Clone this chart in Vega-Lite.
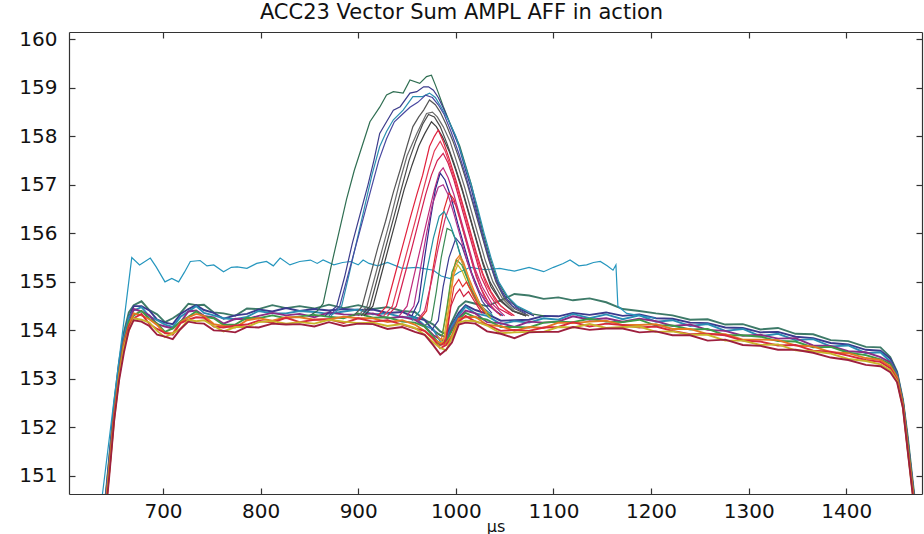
{
  "$schema": "https://vega.github.io/schema/vega-lite/v6.json",
  "width": 853,
  "height": 462,
  "autosize": {"type": "none"},
  "padding": {"left": 69, "top": 32, "right": 2, "bottom": 40},
  "background": "white",
  "title": {"text": "ACC23 Vector Sum AMPL AFF in action", "font": "DejaVu Sans", "fontSize": 21, "fontWeight": "normal", "color": "#111", "anchor": "middle", "dx": -34, "offset": 6},
  "config": {
    "view": {"stroke": null},
    "axis": {"grid": false, "domainColor": "#333", "tickColor": "#333", "labelColor": "#111", "labelFont": "DejaVu Sans", "labelFontSize": 20, "titleFont": "DejaVu Sans", "titleFontWeight": "normal", "titleColor": "#111", "tickSize": -6, "domainWidth": 1.2, "tickWidth": 1.2}
  },
  "datasets": {
    "pts": [
{"s":"L1","x":638,"y":149.9},{"s":"L1","x":645,"y":151.4},{"s":"L1","x":650,"y":152.5},{"s":"L1","x":655,"y":153.35},{"s":"L1","x":660,"y":153.97},{"s":"L1","x":665,"y":154.37},{"s":"L1","x":670,"y":154.52},{"s":"L1","x":678,"y":154.6},{"s":"L1","x":686,"y":154.42},{"s":"L1","x":694,"y":154.33},{"s":"L1","x":702,"y":154.17},{"s":"L1","x":710,"y":154.25},{"s":"L1","x":718,"y":154.36},{"s":"L1","x":726,"y":154.55},{"s":"L1","x":734,"y":154.52},{"s":"L1","x":742,"y":154.53},{"s":"L1","x":752,"y":154.37},{"s":"L1","x":762,"y":154.35},{"s":"L1","x":774,"y":154.3},{"s":"L1","x":786,"y":154.45},{"s":"L1","x":798,"y":154.44},{"s":"L1","x":812,"y":154.52},{"s":"L1","x":826,"y":154.46},{"s":"L1","x":840,"y":154.5},{"s":"L1","x":855,"y":154.45},{"s":"L1","x":870,"y":154.53},{"s":"L1","x":885,"y":154.46},{"s":"L1","x":900,"y":154.52},{"s":"L1","x":915,"y":154.44},{"s":"L1","x":930,"y":154.48},{"s":"L1","x":945,"y":154.4},{"s":"L1","x":958,"y":154.38},{"s":"L1","x":968,"y":154.22},{"s":"L1","x":977,"y":154.12},{"s":"L1","x":984,"y":153.98},{"s":"L1","x":990,"y":153.92},{"s":"L1","x":996,"y":154.18},{"s":"L1","x":1003,"y":154.48},{"s":"L1","x":1010,"y":154.6},{"s":"L1","x":1020,"y":154.55},{"s":"L1","x":1032,"y":154.5},{"s":"L1","x":1046,"y":154.62},{"s":"L1","x":1060,"y":154.75},{"s":"L1","x":1075,"y":154.72},{"s":"L1","x":1090,"y":154.65},{"s":"L1","x":1105,"y":154.68},{"s":"L1","x":1120,"y":154.62},{"s":"L1","x":1137,"y":154.66},{"s":"L1","x":1154,"y":154.58},{"s":"L1","x":1171,"y":154.44},{"s":"L1","x":1188,"y":154.4},{"s":"L1","x":1205,"y":154.35},{"s":"L1","x":1222,"y":154.31},{"s":"L1","x":1240,"y":154.22},{"s":"L1","x":1258,"y":154.23},{"s":"L1","x":1276,"y":154.12},{"s":"L1","x":1294,"y":154.13},{"s":"L1","x":1312,"y":154.02},{"s":"L1","x":1330,"y":154.05},{"s":"L1","x":1348,"y":153.93},{"s":"L1","x":1366,"y":153.92},{"s":"L1","x":1384,"y":153.8},{"s":"L1","x":1402,"y":153.78},{"s":"L1","x":1420,"y":153.66},{"s":"L1","x":1435,"y":153.65},{"s":"L1","x":1445,"y":153.45},{"s":"L1","x":1452,"y":153.15},{"s":"L1","x":1458,"y":152.58},{"s":"L1","x":1463,"y":151.8},{"s":"L1","x":1468,"y":150.9},{"s":"L1","x":1472,"y":150.2},
{"s":"L2","x":638,"y":149.84},{"s":"L2","x":645,"y":151.34},{"s":"L2","x":650,"y":152.44},{"s":"L2","x":655,"y":153.29},{"s":"L2","x":660,"y":153.89},{"s":"L2","x":665,"y":154.27},{"s":"L2","x":670,"y":154.5},{"s":"L2","x":678,"y":154.5},{"s":"L2","x":686,"y":154.41},{"s":"L2","x":694,"y":154.22},{"s":"L2","x":702,"y":154.16},{"s":"L2","x":710,"y":154.13},{"s":"L2","x":718,"y":154.34},{"s":"L2","x":726,"y":154.44},{"s":"L2","x":734,"y":154.52},{"s":"L2","x":742,"y":154.42},{"s":"L2","x":752,"y":154.36},{"s":"L2","x":762,"y":154.24},{"s":"L2","x":774,"y":154.31},{"s":"L2","x":786,"y":154.34},{"s":"L2","x":798,"y":154.43},{"s":"L2","x":812,"y":154.39},{"s":"L2","x":826,"y":154.46},{"s":"L2","x":840,"y":154.4},{"s":"L2","x":855,"y":154.44},{"s":"L2","x":870,"y":154.41},{"s":"L2","x":885,"y":154.44},{"s":"L2","x":900,"y":154.42},{"s":"L2","x":915,"y":154.43},{"s":"L2","x":930,"y":154.36},{"s":"L2","x":945,"y":154.38},{"s":"L2","x":958,"y":154.27},{"s":"L2","x":968,"y":154.21},{"s":"L2","x":977,"y":154.0},{"s":"L2","x":984,"y":153.9},{"s":"L2","x":990,"y":153.86},{"s":"L2","x":996,"y":154.12},{"s":"L2","x":1003,"y":154.36},{"s":"L2","x":1010,"y":154.52},{"s":"L2","x":1020,"y":154.42},{"s":"L2","x":1032,"y":154.34},{"s":"L2","x":1046,"y":154.2},{"s":"L2","x":1060,"y":154.21},{"s":"L2","x":1075,"y":154.22},{"s":"L2","x":1090,"y":154.3},{"s":"L2","x":1105,"y":154.29},{"s":"L2","x":1120,"y":154.36},{"s":"L2","x":1137,"y":154.32},{"s":"L2","x":1154,"y":154.37},{"s":"L2","x":1171,"y":154.3},{"s":"L2","x":1188,"y":154.33},{"s":"L2","x":1205,"y":154.25},{"s":"L2","x":1222,"y":154.24},{"s":"L2","x":1240,"y":154.16},{"s":"L2","x":1258,"y":154.15},{"s":"L2","x":1276,"y":154.06},{"s":"L2","x":1294,"y":154.05},{"s":"L2","x":1312,"y":153.96},{"s":"L2","x":1330,"y":153.97},{"s":"L2","x":1348,"y":153.87},{"s":"L2","x":1366,"y":153.84},{"s":"L2","x":1384,"y":153.74},{"s":"L2","x":1402,"y":153.71},{"s":"L2","x":1420,"y":153.6},{"s":"L2","x":1435,"y":153.58},{"s":"L2","x":1445,"y":153.42},{"s":"L2","x":1452,"y":153.12},{"s":"L2","x":1458,"y":152.53},{"s":"L2","x":1463,"y":151.7},{"s":"L2","x":1468,"y":150.8},{"s":"L2","x":1472,"y":150.1},
{"s":"L3","x":638,"y":149.82},{"s":"L3","x":645,"y":151.27},{"s":"L3","x":650,"y":152.4},{"s":"L3","x":655,"y":153.2},{"s":"L3","x":660,"y":153.86},{"s":"L3","x":665,"y":154.28},{"s":"L3","x":670,"y":154.41},{"s":"L3","x":678,"y":154.48},{"s":"L3","x":686,"y":154.29},{"s":"L3","x":694,"y":154.21},{"s":"L3","x":702,"y":154.12},{"s":"L3","x":710,"y":154.07},{"s":"L3","x":718,"y":154.28},{"s":"L3","x":726,"y":154.39},{"s":"L3","x":734,"y":154.5},{"s":"L3","x":742,"y":154.36},{"s":"L3","x":752,"y":154.31},{"s":"L3","x":762,"y":154.25},{"s":"L3","x":774,"y":154.23},{"s":"L3","x":786,"y":154.28},{"s":"L3","x":798,"y":154.4},{"s":"L3","x":812,"y":154.35},{"s":"L3","x":826,"y":154.35},{"s":"L3","x":840,"y":154.4},{"s":"L3","x":855,"y":154.38},{"s":"L3","x":870,"y":154.34},{"s":"L3","x":885,"y":154.39},{"s":"L3","x":900,"y":154.43},{"s":"L3","x":915,"y":154.33},{"s":"L3","x":930,"y":154.35},{"s":"L3","x":945,"y":154.27},{"s":"L3","x":958,"y":154.27},{"s":"L3","x":968,"y":154.1},{"s":"L3","x":977,"y":154.02},{"s":"L3","x":984,"y":153.78},{"s":"L3","x":990,"y":153.8},{"s":"L3","x":996,"y":154.09},{"s":"L3","x":1003,"y":154.31},{"s":"L3","x":1010,"y":154.49},{"s":"L3","x":1020,"y":154.35},{"s":"L3","x":1032,"y":154.3},{"s":"L3","x":1046,"y":154.13},{"s":"L3","x":1060,"y":154.19},{"s":"L3","x":1075,"y":154.16},{"s":"L3","x":1090,"y":154.25},{"s":"L3","x":1105,"y":154.22},{"s":"L3","x":1120,"y":154.34},{"s":"L3","x":1137,"y":154.25},{"s":"L3","x":1154,"y":154.33},{"s":"L3","x":1171,"y":154.23},{"s":"L3","x":1188,"y":154.31},{"s":"L3","x":1205,"y":154.18},{"s":"L3","x":1222,"y":154.21},{"s":"L3","x":1240,"y":154.09},{"s":"L3","x":1258,"y":154.13},{"s":"L3","x":1276,"y":153.99},{"s":"L3","x":1294,"y":154.03},{"s":"L3","x":1312,"y":153.88},{"s":"L3","x":1330,"y":153.93},{"s":"L3","x":1348,"y":153.8},{"s":"L3","x":1366,"y":153.82},{"s":"L3","x":1384,"y":153.67},{"s":"L3","x":1402,"y":153.69},{"s":"L3","x":1420,"y":153.53},{"s":"L3","x":1435,"y":153.55},{"s":"L3","x":1445,"y":153.36},{"s":"L3","x":1452,"y":153.1},{"s":"L3","x":1458,"y":152.52},{"s":"L3","x":1463,"y":151.72},{"s":"L3","x":1468,"y":150.82},{"s":"L3","x":1472,"y":150.12},
{"s":"L4","x":638,"y":149.72},{"s":"L4","x":645,"y":151.26},{"s":"L4","x":650,"y":152.31},{"s":"L4","x":655,"y":153.22},{"s":"L4","x":660,"y":153.78},{"s":"L4","x":665,"y":154.15},{"s":"L4","x":670,"y":154.44},{"s":"L4","x":678,"y":154.39},{"s":"L4","x":686,"y":154.31},{"s":"L4","x":694,"y":154.13},{"s":"L4","x":702,"y":154.08},{"s":"L4","x":710,"y":154.04},{"s":"L4","x":718,"y":154.17},{"s":"L4","x":726,"y":154.39},{"s":"L4","x":734,"y":154.41},{"s":"L4","x":742,"y":154.3},{"s":"L4","x":752,"y":154.27},{"s":"L4","x":762,"y":154.14},{"s":"L4","x":774,"y":154.24},{"s":"L4","x":786,"y":154.23},{"s":"L4","x":798,"y":154.3},{"s":"L4","x":812,"y":154.36},{"s":"L4","x":826,"y":154.31},{"s":"L4","x":840,"y":154.34},{"s":"L4","x":855,"y":154.27},{"s":"L4","x":870,"y":154.37},{"s":"L4","x":885,"y":154.33},{"s":"L4","x":900,"y":154.32},{"s":"L4","x":915,"y":154.35},{"s":"L4","x":930,"y":154.25},{"s":"L4","x":945,"y":154.28},{"s":"L4","x":958,"y":154.22},{"s":"L4","x":968,"y":154.08},{"s":"L4","x":977,"y":153.9},{"s":"L4","x":984,"y":153.82},{"s":"L4","x":990,"y":153.77},{"s":"L4","x":996,"y":154.03},{"s":"L4","x":1003,"y":154.26},{"s":"L4","x":1010,"y":154.41},{"s":"L4","x":1020,"y":154.35},{"s":"L4","x":1032,"y":154.17},{"s":"L4","x":1046,"y":154.15},{"s":"L4","x":1060,"y":154.07},{"s":"L4","x":1075,"y":154.18},{"s":"L4","x":1090,"y":154.16},{"s":"L4","x":1105,"y":154.18},{"s":"L4","x":1120,"y":154.29},{"s":"L4","x":1137,"y":154.22},{"s":"L4","x":1154,"y":154.25},{"s":"L4","x":1171,"y":154.18},{"s":"L4","x":1188,"y":154.24},{"s":"L4","x":1205,"y":154.19},{"s":"L4","x":1222,"y":154.09},{"s":"L4","x":1240,"y":154.12},{"s":"L4","x":1258,"y":154.01},{"s":"L4","x":1276,"y":153.99},{"s":"L4","x":1294,"y":153.89},{"s":"L4","x":1312,"y":153.91},{"s":"L4","x":1330,"y":153.83},{"s":"L4","x":1348,"y":153.84},{"s":"L4","x":1366,"y":153.69},{"s":"L4","x":1384,"y":153.68},{"s":"L4","x":1402,"y":153.57},{"s":"L4","x":1420,"y":153.55},{"s":"L4","x":1435,"y":153.45},{"s":"L4","x":1445,"y":153.34},{"s":"L4","x":1452,"y":153.07},{"s":"L4","x":1458,"y":152.5},{"s":"L4","x":1463,"y":151.7},{"s":"L4","x":1468,"y":150.8},{"s":"L4","x":1472,"y":150.1},
{"s":"L5","x":638,"y":149.73},{"s":"L5","x":645,"y":151.19},{"s":"L5","x":650,"y":152.32},{"s":"L5","x":655,"y":153.13},{"s":"L5","x":660,"y":153.76},{"s":"L5","x":665,"y":154.18},{"s":"L5","x":670,"y":154.31},{"s":"L5","x":678,"y":154.4},{"s":"L5","x":686,"y":154.24},{"s":"L5","x":694,"y":154.14},{"s":"L5","x":702,"y":153.97},{"s":"L5","x":710,"y":154.04},{"s":"L5","x":718,"y":154.19},{"s":"L5","x":726,"y":154.28},{"s":"L5","x":734,"y":154.39},{"s":"L5","x":742,"y":154.28},{"s":"L5","x":752,"y":154.25},{"s":"L5","x":762,"y":154.11},{"s":"L5","x":774,"y":154.12},{"s":"L5","x":786,"y":154.26},{"s":"L5","x":798,"y":154.25},{"s":"L5","x":812,"y":154.31},{"s":"L5","x":826,"y":154.25},{"s":"L5","x":840,"y":154.29},{"s":"L5","x":855,"y":154.32},{"s":"L5","x":870,"y":154.28},{"s":"L5","x":885,"y":154.25},{"s":"L5","x":900,"y":154.35},{"s":"L5","x":915,"y":154.26},{"s":"L5","x":930,"y":154.27},{"s":"L5","x":945,"y":154.18},{"s":"L5","x":958,"y":154.16},{"s":"L5","x":968,"y":154.08},{"s":"L5","x":977,"y":153.87},{"s":"L5","x":984,"y":153.7},{"s":"L5","x":990,"y":153.77},{"s":"L5","x":996,"y":153.99},{"s":"L5","x":1003,"y":154.23},{"s":"L5","x":1010,"y":154.36},{"s":"L5","x":1020,"y":154.27},{"s":"L5","x":1032,"y":154.22},{"s":"L5","x":1046,"y":154.07},{"s":"L5","x":1060,"y":154.07},{"s":"L5","x":1075,"y":154.06},{"s":"L5","x":1090,"y":154.16},{"s":"L5","x":1105,"y":154.18},{"s":"L5","x":1120,"y":154.17},{"s":"L5","x":1137,"y":154.24},{"s":"L5","x":1154,"y":154.18},{"s":"L5","x":1171,"y":154.17},{"s":"L5","x":1188,"y":154.22},{"s":"L5","x":1205,"y":154.1},{"s":"L5","x":1222,"y":154.1},{"s":"L5","x":1240,"y":154.02},{"s":"L5","x":1258,"y":154.03},{"s":"L5","x":1276,"y":153.9},{"s":"L5","x":1294,"y":153.9},{"s":"L5","x":1312,"y":153.87},{"s":"L5","x":1330,"y":153.78},{"s":"L5","x":1348,"y":153.77},{"s":"L5","x":1366,"y":153.65},{"s":"L5","x":1384,"y":153.66},{"s":"L5","x":1402,"y":153.54},{"s":"L5","x":1420,"y":153.49},{"s":"L5","x":1435,"y":153.4},{"s":"L5","x":1445,"y":153.31},{"s":"L5","x":1452,"y":153.05},{"s":"L5","x":1458,"y":152.5},{"s":"L5","x":1463,"y":151.68},{"s":"L5","x":1468,"y":150.78},{"s":"L5","x":1472,"y":150.05},
{"s":"L6","x":638,"y":149.63},{"s":"L6","x":645,"y":151.18},{"s":"L6","x":650,"y":152.27},{"s":"L6","x":655,"y":153.09},{"s":"L6","x":660,"y":153.74},{"s":"L6","x":665,"y":154.1},{"s":"L6","x":670,"y":154.35},{"s":"L6","x":678,"y":154.31},{"s":"L6","x":686,"y":154.23},{"s":"L6","x":694,"y":154.11},{"s":"L6","x":702,"y":153.94},{"s":"L6","x":710,"y":153.94},{"s":"L6","x":718,"y":154.17},{"s":"L6","x":726,"y":154.27},{"s":"L6","x":734,"y":154.34},{"s":"L6","x":742,"y":154.3},{"s":"L6","x":752,"y":154.13},{"s":"L6","x":762,"y":154.09},{"s":"L6","x":774,"y":154.06},{"s":"L6","x":786,"y":154.21},{"s":"L6","x":798,"y":154.25},{"s":"L6","x":812,"y":154.2},{"s":"L6","x":826,"y":154.27},{"s":"L6","x":840,"y":154.27},{"s":"L6","x":855,"y":154.22},{"s":"L6","x":870,"y":154.23},{"s":"L6","x":885,"y":154.28},{"s":"L6","x":900,"y":154.25},{"s":"L6","x":915,"y":154.25},{"s":"L6","x":930,"y":154.17},{"s":"L6","x":945,"y":154.21},{"s":"L6","x":958,"y":154.12},{"s":"L6","x":968,"y":153.99},{"s":"L6","x":977,"y":153.82},{"s":"L6","x":984,"y":153.74},{"s":"L6","x":990,"y":153.73},{"s":"L6","x":996,"y":153.9},{"s":"L6","x":1003,"y":154.24},{"s":"L6","x":1010,"y":154.27},{"s":"L6","x":1020,"y":154.28},{"s":"L6","x":1032,"y":154.11},{"s":"L6","x":1046,"y":154.09},{"s":"L6","x":1060,"y":153.99},{"s":"L6","x":1075,"y":154.07},{"s":"L6","x":1090,"y":154.05},{"s":"L6","x":1105,"y":154.16},{"s":"L6","x":1120,"y":154.15},{"s":"L6","x":1137,"y":154.18},{"s":"L6","x":1154,"y":154.2},{"s":"L6","x":1171,"y":154.11},{"s":"L6","x":1188,"y":154.11},{"s":"L6","x":1205,"y":154.13},{"s":"L6","x":1222,"y":154.03},{"s":"L6","x":1240,"y":154.03},{"s":"L6","x":1258,"y":153.92},{"s":"L6","x":1276,"y":153.92},{"s":"L6","x":1294,"y":153.81},{"s":"L6","x":1312,"y":153.81},{"s":"L6","x":1330,"y":153.8},{"s":"L6","x":1348,"y":153.69},{"s":"L6","x":1366,"y":153.67},{"s":"L6","x":1384,"y":153.55},{"s":"L6","x":1402,"y":153.53},{"s":"L6","x":1420,"y":153.43},{"s":"L6","x":1435,"y":153.39},{"s":"L6","x":1445,"y":153.26},{"s":"L6","x":1452,"y":153.03},{"s":"L6","x":1458,"y":152.47},{"s":"L6","x":1463,"y":151.58},{"s":"L6","x":1468,"y":150.72},{"s":"L6","x":1472,"y":149.98},
{"s":"L7","x":638,"y":149.64},{"s":"L7","x":645,"y":151.11},{"s":"L7","x":650,"y":152.25},{"s":"L7","x":655,"y":153.04},{"s":"L7","x":660,"y":153.68},{"s":"L7","x":665,"y":154.09},{"s":"L7","x":670,"y":154.25},{"s":"L7","x":678,"y":154.34},{"s":"L7","x":686,"y":154.13},{"s":"L7","x":694,"y":154.03},{"s":"L7","x":702,"y":153.95},{"s":"L7","x":710,"y":153.91},{"s":"L7","x":718,"y":154.15},{"s":"L7","x":726,"y":154.22},{"s":"L7","x":734,"y":154.27},{"s":"L7","x":742,"y":154.26},{"s":"L7","x":752,"y":154.08},{"s":"L7","x":762,"y":154.06},{"s":"L7","x":774,"y":154.1},{"s":"L7","x":786,"y":154.12},{"s":"L7","x":798,"y":154.2},{"s":"L7","x":812,"y":154.16},{"s":"L7","x":826,"y":154.26},{"s":"L7","x":840,"y":154.17},{"s":"L7","x":855,"y":154.22},{"s":"L7","x":870,"y":154.23},{"s":"L7","x":885,"y":154.15},{"s":"L7","x":900,"y":154.25},{"s":"L7","x":915,"y":154.18},{"s":"L7","x":930,"y":154.21},{"s":"L7","x":945,"y":154.12},{"s":"L7","x":958,"y":154.04},{"s":"L7","x":968,"y":153.99},{"s":"L7","x":977,"y":153.83},{"s":"L7","x":984,"y":153.63},{"s":"L7","x":990,"y":153.7},{"s":"L7","x":996,"y":153.85},{"s":"L7","x":1003,"y":154.18},{"s":"L7","x":1010,"y":154.3},{"s":"L7","x":1020,"y":154.18},{"s":"L7","x":1032,"y":154.12},{"s":"L7","x":1046,"y":153.99},{"s":"L7","x":1060,"y":154.01},{"s":"L7","x":1075,"y":153.99},{"s":"L7","x":1090,"y":154.06},{"s":"L7","x":1105,"y":154.07},{"s":"L7","x":1120,"y":154.17},{"s":"L7","x":1137,"y":154.08},{"s":"L7","x":1154,"y":154.14},{"s":"L7","x":1171,"y":154.11},{"s":"L7","x":1188,"y":154.06},{"s":"L7","x":1205,"y":154.08},{"s":"L7","x":1222,"y":153.99},{"s":"L7","x":1240,"y":153.92},{"s":"L7","x":1258,"y":153.93},{"s":"L7","x":1276,"y":153.9},{"s":"L7","x":1294,"y":153.79},{"s":"L7","x":1312,"y":153.77},{"s":"L7","x":1330,"y":153.69},{"s":"L7","x":1348,"y":153.7},{"s":"L7","x":1366,"y":153.58},{"s":"L7","x":1384,"y":153.56},{"s":"L7","x":1402,"y":153.48},{"s":"L7","x":1420,"y":153.39},{"s":"L7","x":1435,"y":153.35},{"s":"L7","x":1445,"y":153.22},{"s":"L7","x":1452,"y":152.99},{"s":"L7","x":1458,"y":152.45},{"s":"L7","x":1463,"y":151.55},{"s":"L7","x":1468,"y":150.68},{"s":"L7","x":1472,"y":149.95},
{"s":"L8","x":638,"y":149.57},{"s":"L8","x":645,"y":151.1},{"s":"L8","x":650,"y":152.16},{"s":"L8","x":655,"y":153.04},{"s":"L8","x":660,"y":153.66},{"s":"L8","x":665,"y":154.0},{"s":"L8","x":670,"y":154.25},{"s":"L8","x":678,"y":154.22},{"s":"L8","x":686,"y":154.16},{"s":"L8","x":694,"y":153.99},{"s":"L8","x":702,"y":153.86},{"s":"L8","x":710,"y":153.94},{"s":"L8","x":718,"y":154.03},{"s":"L8","x":726,"y":154.22},{"s":"L8","x":734,"y":154.19},{"s":"L8","x":742,"y":154.21},{"s":"L8","x":752,"y":154.09},{"s":"L8","x":762,"y":153.98},{"s":"L8","x":774,"y":154.07},{"s":"L8","x":786,"y":154.07},{"s":"L8","x":798,"y":154.17},{"s":"L8","x":812,"y":154.19},{"s":"L8","x":826,"y":154.14},{"s":"L8","x":840,"y":154.17},{"s":"L8","x":855,"y":154.14},{"s":"L8","x":870,"y":154.22},{"s":"L8","x":885,"y":154.18},{"s":"L8","x":900,"y":154.15},{"s":"L8","x":915,"y":154.16},{"s":"L8","x":930,"y":154.09},{"s":"L8","x":945,"y":154.13},{"s":"L8","x":958,"y":154.05},{"s":"L8","x":968,"y":153.91},{"s":"L8","x":977,"y":153.75},{"s":"L8","x":984,"y":153.64},{"s":"L8","x":990,"y":153.59},{"s":"L8","x":996,"y":153.85},{"s":"L8","x":1003,"y":154.16},{"s":"L8","x":1010,"y":154.2},{"s":"L8","x":1020,"y":154.19},{"s":"L8","x":1032,"y":154.1},{"s":"L8","x":1046,"y":153.94},{"s":"L8","x":1060,"y":153.96},{"s":"L8","x":1075,"y":153.97},{"s":"L8","x":1090,"y":153.97},{"s":"L8","x":1105,"y":154.07},{"s":"L8","x":1120,"y":154.06},{"s":"L8","x":1137,"y":154.13},{"s":"L8","x":1154,"y":154.05},{"s":"L8","x":1171,"y":154.07},{"s":"L8","x":1188,"y":154.08},{"s":"L8","x":1205,"y":153.97},{"s":"L8","x":1222,"y":153.98},{"s":"L8","x":1240,"y":153.91},{"s":"L8","x":1258,"y":153.91},{"s":"L8","x":1276,"y":153.79},{"s":"L8","x":1294,"y":153.79},{"s":"L8","x":1312,"y":153.7},{"s":"L8","x":1330,"y":153.71},{"s":"L8","x":1348,"y":153.59},{"s":"L8","x":1366,"y":153.57},{"s":"L8","x":1384,"y":153.52},{"s":"L8","x":1402,"y":153.41},{"s":"L8","x":1420,"y":153.37},{"s":"L8","x":1435,"y":153.3},{"s":"L8","x":1445,"y":153.18},{"s":"L8","x":1452,"y":152.96},{"s":"L8","x":1458,"y":152.42},{"s":"L8","x":1463,"y":151.52},{"s":"L8","x":1468,"y":150.65},{"s":"L8","x":1472,"y":149.92},
{"s":"L9","x":638,"y":149.54},{"s":"L9","x":645,"y":151.01},{"s":"L9","x":650,"y":152.15},{"s":"L9","x":655,"y":152.97},{"s":"L9","x":660,"y":153.55},{"s":"L9","x":665,"y":154.0},{"s":"L9","x":670,"y":154.21},{"s":"L9","x":678,"y":154.18},{"s":"L9","x":686,"y":154.09},{"s":"L9","x":694,"y":153.91},{"s":"L9","x":702,"y":153.87},{"s":"L9","x":710,"y":153.82},{"s":"L9","x":718,"y":154.03},{"s":"L9","x":726,"y":154.18},{"s":"L9","x":734,"y":154.15},{"s":"L9","x":742,"y":154.14},{"s":"L9","x":752,"y":154.0},{"s":"L9","x":762,"y":153.99},{"s":"L9","x":774,"y":153.96},{"s":"L9","x":786,"y":154.07},{"s":"L9","x":798,"y":154.06},{"s":"L9","x":812,"y":154.14},{"s":"L9","x":826,"y":154.12},{"s":"L9","x":840,"y":154.13},{"s":"L9","x":855,"y":154.08},{"s":"L9","x":870,"y":154.17},{"s":"L9","x":885,"y":154.09},{"s":"L9","x":900,"y":154.14},{"s":"L9","x":915,"y":154.13},{"s":"L9","x":930,"y":154.03},{"s":"L9","x":945,"y":154.07},{"s":"L9","x":958,"y":153.97},{"s":"L9","x":968,"y":153.91},{"s":"L9","x":977,"y":153.69},{"s":"L9","x":984,"y":153.5},{"s":"L9","x":990,"y":153.6},{"s":"L9","x":996,"y":153.75},{"s":"L9","x":1003,"y":154.12},{"s":"L9","x":1010,"y":154.16},{"s":"L9","x":1020,"y":154.14},{"s":"L9","x":1032,"y":153.98},{"s":"L9","x":1046,"y":153.93},{"s":"L9","x":1060,"y":153.84},{"s":"L9","x":1075,"y":153.96},{"s":"L9","x":1090,"y":153.97},{"s":"L9","x":1105,"y":153.97},{"s":"L9","x":1120,"y":154.07},{"s":"L9","x":1137,"y":154.01},{"s":"L9","x":1154,"y":154.04},{"s":"L9","x":1171,"y":154.04},{"s":"L9","x":1188,"y":153.96},{"s":"L9","x":1205,"y":153.98},{"s":"L9","x":1222,"y":153.9},{"s":"L9","x":1240,"y":153.9},{"s":"L9","x":1258,"y":153.79},{"s":"L9","x":1276,"y":153.81},{"s":"L9","x":1294,"y":153.7},{"s":"L9","x":1312,"y":153.68},{"s":"L9","x":1330,"y":153.6},{"s":"L9","x":1348,"y":153.6},{"s":"L9","x":1366,"y":153.54},{"s":"L9","x":1384,"y":153.44},{"s":"L9","x":1402,"y":153.39},{"s":"L9","x":1420,"y":153.29},{"s":"L9","x":1435,"y":153.26},{"s":"L9","x":1445,"y":153.14},{"s":"L9","x":1452,"y":152.93},{"s":"L9","x":1458,"y":152.4},{"s":"L9","x":1463,"y":151.5},{"s":"L9","x":1468,"y":150.62},{"s":"L9","x":1472,"y":149.9},
{"s":"CY","x":636,"y":150.3},{"s":"CY","x":650,"y":152.6},{"s":"CY","x":660,"y":154.2},{"s":"CY","x":668,"y":155.5},{"s":"CY","x":676,"y":155.35},{"s":"CY","x":687,"y":155.49},{"s":"CY","x":693,"y":155.31},{"s":"CY","x":702,"y":155.0},{"s":"CY","x":709,"y":155.07},{"s":"CY","x":716,"y":155.0},{"s":"CY","x":722,"y":155.2},{"s":"CY","x":728,"y":155.42},{"s":"CY","x":738,"y":155.44},{"s":"CY","x":745,"y":155.33},{"s":"CY","x":752,"y":155.35},{"s":"CY","x":762,"y":155.21},{"s":"CY","x":770,"y":155.3},{"s":"CY","x":776,"y":155.31},{"s":"CY","x":786,"y":155.28},{"s":"CY","x":796,"y":155.38},{"s":"CY","x":806,"y":155.42},{"s":"CY","x":813,"y":155.33},{"s":"CY","x":820,"y":155.49},{"s":"CY","x":830,"y":155.35},{"s":"CY","x":840,"y":155.42},{"s":"CY","x":851,"y":155.45},{"s":"CY","x":858,"y":155.38},{"s":"CY","x":864,"y":155.45},{"s":"CY","x":875,"y":155.35},{"s":"CY","x":884,"y":155.4},{"s":"CY","x":892,"y":155.42},{"s":"CY","x":900,"y":155.35},{"s":"CY","x":905,"y":155.45},{"s":"CY","x":911,"y":155.38},{"s":"CY","x":920,"y":155.33},{"s":"CY","x":930,"y":155.4},{"s":"CY","x":945,"y":155.28},{"s":"CY","x":960,"y":155.3},{"s":"CY","x":977,"y":155.24},{"s":"CY","x":985,"y":155.12},{"s":"CY","x":994,"y":155.07},{"s":"CY","x":1003,"y":155.2},{"s":"CY","x":1015,"y":155.3},{"s":"CY","x":1030,"y":155.25},{"s":"CY","x":1045,"y":155.28},{"s":"CY","x":1060,"y":155.22},{"s":"CY","x":1075,"y":155.3},{"s":"CY","x":1090,"y":155.21},{"s":"CY","x":1100,"y":155.3},{"s":"CY","x":1110,"y":155.38},{"s":"CY","x":1117,"y":155.45},{"s":"CY","x":1126,"y":155.33},{"s":"CY","x":1134,"y":155.35},{"s":"CY","x":1141,"y":155.4},{"s":"CY","x":1148,"y":155.42},{"s":"CY","x":1155,"y":155.33},{"s":"CY","x":1161,"y":155.24},{"s":"CY","x":1164,"y":155.35},{"s":"CY","x":1166,"y":154.5},{"s":"CY","x":1175,"y":154.35},{"s":"CY","x":1190,"y":154.3},{"s":"CY","x":1205,"y":154.25},
{"s":"S01","x":850,"y":154.3},{"s":"S01","x":858,"y":154.4},{"s":"S01","x":864,"y":154.55},{"s":"S01","x":872,"y":155.3},{"s":"S01","x":880,"y":156.0},{"s":"S01","x":888,"y":156.7},{"s":"S01","x":896,"y":157.3},{"s":"S01","x":904,"y":157.8},{"s":"S01","x":912,"y":158.3},{"s":"S01","x":922,"y":158.6},{"s":"S01","x":929,"y":158.85},{"s":"S01","x":936,"y":158.92},{"s":"S01","x":946,"y":158.89},{"s":"S01","x":953,"y":159.16},{"s":"S01","x":963,"y":159.09},{"s":"S01","x":970,"y":159.23},{"s":"S01","x":975,"y":159.26},{"s":"S01","x":979,"y":159.06},{"s":"S01","x":982,"y":158.9},{"s":"S01","x":987,"y":158.62},{"s":"S01","x":994,"y":158.27},{"s":"S01","x":1004,"y":157.8},{"s":"S01","x":1010,"y":157.4},{"s":"S01","x":1016,"y":157.0},{"s":"S01","x":1022,"y":156.5},{"s":"S01","x":1028,"y":156.0},{"s":"S01","x":1035,"y":155.5},{"s":"S01","x":1043,"y":155.0},{"s":"S01","x":1052,"y":154.7},{"s":"S01","x":1062,"y":154.5},{"s":"S01","x":1075,"y":154.35},{"s":"S01","x":1090,"y":154.3},
{"s":"S02","x":866,"y":154.3},{"s":"S02","x":872,"y":154.4},{"s":"S02","x":878,"y":154.5},{"s":"S02","x":886,"y":155.1},{"s":"S02","x":894,"y":155.8},{"s":"S02","x":902,"y":156.4},{"s":"S02","x":910,"y":157.0},{"s":"S02","x":916,"y":157.5},{"s":"S02","x":922,"y":158.06},{"s":"S02","x":929,"y":158.3},{"s":"S02","x":936,"y":158.54},{"s":"S02","x":943,"y":158.61},{"s":"S02","x":953,"y":158.89},{"s":"S02","x":960,"y":158.92},{"s":"S02","x":967,"y":159.02},{"s":"S02","x":972,"y":159.02},{"s":"S02","x":977,"y":158.95},{"s":"S02","x":982,"y":158.8},{"s":"S02","x":988,"y":158.55},{"s":"S02","x":995,"y":158.2},{"s":"S02","x":1003,"y":157.8},{"s":"S02","x":1010,"y":157.3},{"s":"S02","x":1016,"y":156.9},{"s":"S02","x":1022,"y":156.4},{"s":"S02","x":1028,"y":155.9},{"s":"S02","x":1035,"y":155.4},{"s":"S02","x":1043,"y":154.95},{"s":"S02","x":1052,"y":154.65},{"s":"S02","x":1064,"y":154.45},{"s":"S02","x":1080,"y":154.3},
{"s":"S03","x":872,"y":154.3},{"s":"S03","x":878,"y":154.4},{"s":"S03","x":883,"y":154.5},{"s":"S03","x":890,"y":155.1},{"s":"S03","x":898,"y":155.8},{"s":"S03","x":906,"y":156.5},{"s":"S03","x":914,"y":157.2},{"s":"S03","x":922,"y":157.79},{"s":"S03","x":929,"y":158.1},{"s":"S03","x":936,"y":158.34},{"s":"S03","x":946,"y":158.54},{"s":"S03","x":956,"y":158.82},{"s":"S03","x":966,"y":158.82},{"s":"S03","x":973,"y":158.89},{"s":"S03","x":979,"y":158.8},{"s":"S03","x":985,"y":158.6},{"s":"S03","x":992,"y":158.35},{"s":"S03","x":1000,"y":158.0},{"s":"S03","x":1008,"y":157.5},{"s":"S03","x":1015,"y":157.05},{"s":"S03","x":1022,"y":156.55},{"s":"S03","x":1029,"y":156.0},{"s":"S03","x":1036,"y":155.5},{"s":"S03","x":1044,"y":155.0},{"s":"S03","x":1053,"y":154.7},{"s":"S03","x":1063,"y":154.5},{"s":"S03","x":1078,"y":154.35},
{"s":"S04","x":895,"y":154.3},{"s":"S04","x":900,"y":154.4},{"s":"S04","x":904,"y":154.5},{"s":"S04","x":912,"y":155.1},{"s":"S04","x":920,"y":155.7},{"s":"S04","x":928,"y":156.25},{"s":"S04","x":936,"y":156.85},{"s":"S04","x":943,"y":157.31},{"s":"S04","x":950,"y":157.8},{"s":"S04","x":956,"y":158.2},{"s":"S04","x":962,"y":158.4},{"s":"S04","x":967,"y":158.54},{"s":"S04","x":973,"y":158.75},{"s":"S04","x":979,"y":158.65},{"s":"S04","x":984,"y":158.5},{"s":"S04","x":990,"y":158.25},{"s":"S04","x":997,"y":157.9},{"s":"S04","x":1005,"y":157.45},{"s":"S04","x":1012,"y":157.0},{"s":"S04","x":1019,"y":156.5},{"s":"S04","x":1026,"y":156.0},{"s":"S04","x":1033,"y":155.5},{"s":"S04","x":1041,"y":155.0},{"s":"S04","x":1050,"y":154.65},{"s":"S04","x":1060,"y":154.45},{"s":"S04","x":1075,"y":154.3},
{"s":"S05","x":900,"y":154.3},{"s":"S05","x":909,"y":154.5},{"s":"S05","x":917,"y":155.1},{"s":"S05","x":925,"y":155.7},{"s":"S05","x":933,"y":156.3},{"s":"S05","x":943,"y":157.1},{"s":"S05","x":950,"y":157.6},{"s":"S05","x":960,"y":158.06},{"s":"S05","x":970,"y":158.47},{"s":"S05","x":976,"y":158.5},{"s":"S05","x":981,"y":158.4},{"s":"S05","x":987,"y":158.2},{"s":"S05","x":994,"y":157.9},{"s":"S05","x":1002,"y":157.4},{"s":"S05","x":1009,"y":156.95},{"s":"S05","x":1016,"y":156.45},{"s":"S05","x":1023,"y":155.95},{"s":"S05","x":1030,"y":155.45},{"s":"S05","x":1038,"y":155.0},{"s":"S05","x":1048,"y":154.65},{"s":"S05","x":1060,"y":154.4},{"s":"S05","x":1075,"y":154.3},
{"s":"S06","x":906,"y":154.3},{"s":"S06","x":915,"y":154.5},{"s":"S06","x":923,"y":155.1},{"s":"S06","x":931,"y":155.7},{"s":"S06","x":939,"y":156.3},{"s":"S06","x":947,"y":156.9},{"s":"S06","x":955,"y":157.4},{"s":"S06","x":962,"y":157.8},{"s":"S06","x":968,"y":158.05},{"s":"S06","x":975,"y":158.3},{"s":"S06","x":980,"y":158.2},{"s":"S06","x":986,"y":158.0},{"s":"S06","x":993,"y":157.7},{"s":"S06","x":1000,"y":157.3},{"s":"S06","x":1007,"y":156.85},{"s":"S06","x":1014,"y":156.35},{"s":"S06","x":1021,"y":155.85},{"s":"S06","x":1028,"y":155.35},{"s":"S06","x":1036,"y":154.9},{"s":"S06","x":1046,"y":154.6},{"s":"S06","x":1058,"y":154.4},{"s":"S06","x":1072,"y":154.3},
{"s":"S07","x":870,"y":154.3},{"s":"S07","x":881,"y":154.5},{"s":"S07","x":889,"y":155.1},{"s":"S07","x":897,"y":155.7},{"s":"S07","x":905,"y":156.3},{"s":"S07","x":913,"y":156.9},{"s":"S07","x":921,"y":157.5},{"s":"S07","x":929,"y":157.95},{"s":"S07","x":937,"y":158.3},{"s":"S07","x":945,"y":158.45},{"s":"S07","x":953,"y":158.6},{"s":"S07","x":961,"y":158.7},{"s":"S07","x":969,"y":158.85},{"s":"S07","x":976,"y":158.8},{"s":"S07","x":982,"y":158.65},{"s":"S07","x":988,"y":158.45},{"s":"S07","x":995,"y":158.1},{"s":"S07","x":1003,"y":157.65},{"s":"S07","x":1010,"y":157.2},{"s":"S07","x":1017,"y":156.7},{"s":"S07","x":1024,"y":156.2},{"s":"S07","x":1031,"y":155.7},{"s":"S07","x":1039,"y":155.15},{"s":"S07","x":1048,"y":154.75},{"s":"S07","x":1058,"y":154.5},{"s":"S07","x":1072,"y":154.35},
{"s":"S08","x":920,"y":154.3},{"s":"S08","x":929,"y":154.5},{"s":"S08","x":937,"y":155.1},{"s":"S08","x":945,"y":155.7},{"s":"S08","x":953,"y":156.3},{"s":"S08","x":960,"y":156.8},{"s":"S08","x":966,"y":157.2},{"s":"S08","x":973,"y":157.79},{"s":"S08","x":978,"y":158.0},{"s":"S08","x":982,"y":158.13},{"s":"S08","x":987,"y":157.9},{"s":"S08","x":993,"y":157.55},{"s":"S08","x":1000,"y":157.1},{"s":"S08","x":1007,"y":156.6},{"s":"S08","x":1014,"y":156.1},{"s":"S08","x":1021,"y":155.6},{"s":"S08","x":1028,"y":155.15},{"s":"S08","x":1036,"y":154.8},{"s":"S08","x":1046,"y":154.5},{"s":"S08","x":1060,"y":154.3},
{"s":"S09","x":930,"y":154.3},{"s":"S09","x":939,"y":154.5},{"s":"S09","x":947,"y":155.1},{"s":"S09","x":955,"y":155.7},{"s":"S09","x":962,"y":156.25},{"s":"S09","x":969,"y":156.8},{"s":"S09","x":975,"y":157.2},{"s":"S09","x":981,"y":157.5},{"s":"S09","x":987,"y":157.65},{"s":"S09","x":992,"y":157.45},{"s":"S09","x":998,"y":157.1},{"s":"S09","x":1005,"y":156.6},{"s":"S09","x":1012,"y":156.1},{"s":"S09","x":1019,"y":155.6},{"s":"S09","x":1026,"y":155.1},{"s":"S09","x":1034,"y":154.75},{"s":"S09","x":1044,"y":154.45},{"s":"S09","x":1058,"y":154.3},
{"s":"S10","x":942,"y":154.3},{"s":"S10","x":950,"y":154.5},{"s":"S10","x":958,"y":155.2},{"s":"S10","x":965,"y":155.8},{"s":"S10","x":972,"y":156.4},{"s":"S10","x":978,"y":156.9},{"s":"S10","x":983,"y":157.25},{"s":"S10","x":987,"y":157.35},{"s":"S10","x":992,"y":157.15},{"s":"S10","x":998,"y":156.8},{"s":"S10","x":1005,"y":156.3},{"s":"S10","x":1012,"y":155.8},{"s":"S10","x":1019,"y":155.3},{"s":"S10","x":1027,"y":154.9},{"s":"S10","x":1037,"y":154.55},{"s":"S10","x":1050,"y":154.3},
{"s":"S11","x":955,"y":154.3},{"s":"S11","x":962,"y":154.6},{"s":"S11","x":968,"y":155.5},{"s":"S11","x":974,"y":156.3},{"s":"S11","x":979,"y":156.9},{"s":"S11","x":984,"y":157.24},{"s":"S11","x":989,"y":157.1},{"s":"S11","x":995,"y":156.75},{"s":"S11","x":1002,"y":156.2},{"s":"S11","x":1009,"y":155.7},{"s":"S11","x":1016,"y":155.2},{"s":"S11","x":1024,"y":154.8},{"s":"S11","x":1034,"y":154.5},{"s":"S11","x":1048,"y":154.3},
{"s":"S12","x":962,"y":154.2},{"s":"S12","x":970,"y":154.4},{"s":"S12","x":976,"y":155.2},{"s":"S12","x":982,"y":155.9},{"s":"S12","x":988,"y":156.5},{"s":"S12","x":993,"y":156.83},{"s":"S12","x":998,"y":156.7},{"s":"S12","x":1004,"y":156.3},{"s":"S12","x":1011,"y":155.8},{"s":"S12","x":1018,"y":155.3},{"s":"S12","x":1025,"y":154.9},{"s":"S12","x":1034,"y":154.55},{"s":"S12","x":1046,"y":154.3},
{"s":"S13","x":960,"y":154.2},{"s":"S13","x":968,"y":154.4},{"s":"S13","x":975,"y":155.0},{"s":"S13","x":982,"y":155.7},{"s":"S13","x":989,"y":156.3},{"s":"S13","x":996,"y":156.7},{"s":"S13","x":1001,"y":156.55},{"s":"S13","x":1007,"y":156.1},{"s":"S13","x":1014,"y":155.6},{"s":"S13","x":1021,"y":155.1},{"s":"S13","x":1029,"y":154.7},{"s":"S13","x":1040,"y":154.4},
{"s":"S14","x":968,"y":154.1},{"s":"S14","x":975,"y":154.2},{"s":"S14","x":980,"y":154.8},{"s":"S14","x":985,"y":155.5},{"s":"S14","x":991,"y":156.1},{"s":"S14","x":996,"y":156.05},{"s":"S14","x":1001,"y":155.8},{"s":"S14","x":1007,"y":155.4},{"s":"S14","x":1014,"y":154.95},{"s":"S14","x":1022,"y":154.6},{"s":"S14","x":1032,"y":154.35},
{"s":"S15","x":975,"y":154.0},{"s":"S15","x":982,"y":154.2},{"s":"S15","x":987,"y":154.9},{"s":"S15","x":993,"y":155.5},{"s":"S15","x":1000,"y":155.9},{"s":"S15","x":1006,"y":155.75},{"s":"S15","x":1012,"y":155.4},{"s":"S15","x":1019,"y":155.0},{"s":"S15","x":1027,"y":154.6},{"s":"S15","x":1037,"y":154.35},
{"s":"S16","x":955,"y":154.2},{"s":"S16","x":963,"y":154.4},{"s":"S16","x":970,"y":155.2},{"s":"S16","x":977,"y":155.9},{"s":"S16","x":983,"y":156.35},{"s":"S16","x":988,"y":156.45},{"s":"S16","x":994,"y":156.2},{"s":"S16","x":1001,"y":155.8},{"s":"S16","x":1008,"y":155.3},{"s":"S16","x":1016,"y":154.85},{"s":"S16","x":1026,"y":154.5},{"s":"S16","x":1038,"y":154.3},
{"s":"S17","x":980,"y":153.9},{"s":"S17","x":985,"y":153.8},{"s":"S17","x":990,"y":154.3},{"s":"S17","x":995,"y":155.0},{"s":"S17","x":1000,"y":155.45},{"s":"S17","x":1004,"y":155.55},{"s":"S17","x":1008,"y":155.4},{"s":"S17","x":1013,"y":155.1},{"s":"S17","x":1019,"y":154.8},{"s":"S17","x":1026,"y":154.5},{"s":"S17","x":1035,"y":154.3},
{"s":"S18","x":982,"y":153.85},{"s":"S18","x":987,"y":153.75},{"s":"S18","x":992,"y":154.4},{"s":"S18","x":997,"y":155.1},{"s":"S18","x":1002,"y":155.35},{"s":"S18","x":1007,"y":155.2},{"s":"S18","x":1012,"y":154.95},{"s":"S18","x":1018,"y":154.7},{"s":"S18","x":1026,"y":154.45},{"s":"S18","x":1036,"y":154.25},
{"s":"S19","x":980,"y":153.95},{"s":"S19","x":986,"y":153.9},{"s":"S19","x":991,"y":154.5},{"s":"S19","x":996,"y":155.2},{"s":"S19","x":1001,"y":155.45},{"s":"S19","x":1006,"y":155.35},{"s":"S19","x":1011,"y":155.1},{"s":"S19","x":1017,"y":154.8},{"s":"S19","x":1025,"y":154.5},{"s":"S19","x":1035,"y":154.3},
{"s":"S20","x":983,"y":153.7},{"s":"S20","x":988,"y":153.7},{"s":"S20","x":993,"y":154.3},{"s":"S20","x":998,"y":154.9},{"s":"S20","x":1003,"y":155.05},{"s":"S20","x":1007,"y":154.9},{"s":"S20","x":1011,"y":155.0},{"s":"S20","x":1016,"y":154.8},{"s":"S20","x":1022,"y":154.55},{"s":"S20","x":1030,"y":154.35},
{"s":"S21","x":984,"y":153.8},{"s":"S21","x":989,"y":153.85},{"s":"S21","x":994,"y":154.6},{"s":"S21","x":999,"y":155.3},{"s":"S21","x":1004,"y":155.5},{"s":"S21","x":1010,"y":155.25},{"s":"S21","x":1016,"y":154.9},{"s":"S21","x":1023,"y":154.6},{"s":"S21","x":1032,"y":154.35},
{"s":"S22","x":985,"y":153.7},{"s":"S22","x":990,"y":153.8},{"s":"S22","x":995,"y":154.5},{"s":"S22","x":1000,"y":154.75},{"s":"S22","x":1004,"y":154.85},{"s":"S22","x":1008,"y":154.7},{"s":"S22","x":1013,"y":154.8},{"s":"S22","x":1019,"y":154.6},{"s":"S22","x":1027,"y":154.35},
{"s":"S23","x":926,"y":154.3},{"s":"S23","x":935,"y":154.5},{"s":"S23","x":943,"y":155.1},{"s":"S23","x":951,"y":155.7},{"s":"S23","x":959,"y":156.3},{"s":"S23","x":966,"y":156.85},{"s":"S23","x":972,"y":157.3},{"s":"S23","x":978,"y":157.7},{"s":"S23","x":984,"y":157.9},{"s":"S23","x":989,"y":157.7},{"s":"S23","x":995,"y":157.35},{"s":"S23","x":1002,"y":156.9},{"s":"S23","x":1009,"y":156.4},{"s":"S23","x":1016,"y":155.9},{"s":"S23","x":1023,"y":155.4},{"s":"S23","x":1031,"y":154.95},{"s":"S23","x":1041,"y":154.6},{"s":"S23","x":1055,"y":154.35},
{"s":"S24","x":903,"y":154.3},{"s":"S24","x":912,"y":154.5},{"s":"S24","x":920,"y":155.1},{"s":"S24","x":928,"y":155.7},{"s":"S24","x":936,"y":156.3},{"s":"S24","x":944,"y":156.9},{"s":"S24","x":952,"y":157.5},{"s":"S24","x":959,"y":157.9},{"s":"S24","x":966,"y":158.25},{"s":"S24","x":972,"y":158.45},{"s":"S24","x":978,"y":158.4},{"s":"S24","x":984,"y":158.2},{"s":"S24","x":991,"y":157.85},{"s":"S24","x":998,"y":157.45},{"s":"S24","x":1006,"y":156.95},{"s":"S24","x":1013,"y":156.45},{"s":"S24","x":1020,"y":155.95},{"s":"S24","x":1027,"y":155.45},{"s":"S24","x":1035,"y":155.0},{"s":"S24","x":1045,"y":154.65},{"s":"S24","x":1058,"y":154.4},{"s":"S24","x":1072,"y":154.3},
{"s":"S25","x":950,"y":154.3},{"s":"S25","x":957,"y":154.5},{"s":"S25","x":964,"y":155.3},{"s":"S25","x":970,"y":156.0},{"s":"S25","x":976,"y":156.6},{"s":"S25","x":982,"y":156.95},{"s":"S25","x":987,"y":157.0},{"s":"S25","x":992,"y":156.8},{"s":"S25","x":998,"y":156.4},{"s":"S25","x":1005,"y":155.9},{"s":"S25","x":1012,"y":155.4},{"s":"S25","x":1020,"y":154.95},{"s":"S25","x":1030,"y":154.6},{"s":"S25","x":1043,"y":154.35}
    ]
  },
  "data": {"name": "pts"},
  "layer": [
    {
      "transform": [{"filter": {"field": "s", "oneOf": ["L1","L2","L3","L4","L5","L6","L7","L8","L9"]}}],
      "mark": {"type": "line", "strokeWidth": 1.9, "clip": true, "interpolate": "linear"},
      "encoding": {
        "x": {"field": "x", "type": "quantitative", "scale": {"domain": [603.7, 1477.55], "nice": false, "zero": false},
              "axis": {"orient": "bottom", "values": [700, 800, 900, 1000, 1100, 1200, 1300, 1400], "format": "d", "title": "μs", "titleFontSize": 16, "titlePadding": -3, "labelPadding": 13, "labelFlush": false}},
        "y": {"field": "y", "type": "quantitative", "scale": {"domain": [150.628, 160.15], "nice": false, "zero": false},
              "axis": {"orient": "left", "values": [151, 152, 153, 154, 155, 156, 157, 158, 159, 160], "format": "d", "title": null, "labelPadding": 18}},
        "color": {"field": "s", "type": "nominal", "legend": null,
          "scale": {
            "domain": ["L1","L2","L3","L4","L5","L6","L7","L8","L9","CY","S01","S02","S03","S04","S05","S06","S07","S08","S09","S10","S11","S12","S13","S14","S15","S16","S17","S18","S19","S20","S21","S22","S23","S24","S25"],
            "range": ["#3d7a68","#3a3a8e","#2a8db3","#8a2c86","#3c9a48","#e27a22","#d62a3c","#c9b52a","#9e1f3e","#2596be","#2f6e52","#3c3c8c","#2a8fb0","#555555","#6b6b6b","#3f3f3f","#4848a0","#e0203c","#d31e50","#c02a7a","#2b2b8c","#e02a2a","#d0306a","#3a8a55","#3a3a90","#2090a0","#e87a20","#c8b820","#4aa040","#e03030","#f09030","#d02040","#e33a55","#4a4a4a","#b0308c"]
          }}
      }
    },
    {
      "transform": [{"filter": {"not": {"field": "s", "oneOf": ["L1","L2","L3","L4","L5","L6","L7","L8","L9"]}}}],
      "mark": {"type": "line", "strokeWidth": 1.2, "clip": true, "interpolate": "linear"},
      "encoding": {
        "x": {"field": "x", "type": "quantitative", "scale": {"domain": [603.7, 1477.55], "nice": false, "zero": false}, "axis": null},
        "y": {"field": "y", "type": "quantitative", "scale": {"domain": [150.628, 160.15], "nice": false, "zero": false}, "axis": null},
        "color": {"field": "s", "type": "nominal", "legend": null}
      }
    },
    {
      "mark": {"type": "point", "opacity": 0},
      "encoding": {
        "x": {"field": "x", "type": "quantitative", "scale": {"domain": [603.7, 1477.55], "nice": false, "zero": false},
              "axis": {"orient": "top", "values": [700, 800, 900, 1000, 1100, 1200, 1300, 1400], "labels": false, "title": null}},
        "y": {"field": "y", "type": "quantitative", "scale": {"domain": [150.628, 160.15], "nice": false, "zero": false},
              "axis": {"orient": "right", "values": [151, 152, 153, 154, 155, 156, 157, 158, 159, 160], "labels": false, "title": null}}
      }
    }
  ],
  "resolve": {"axis": {"x": "independent", "y": "independent"}}
}
